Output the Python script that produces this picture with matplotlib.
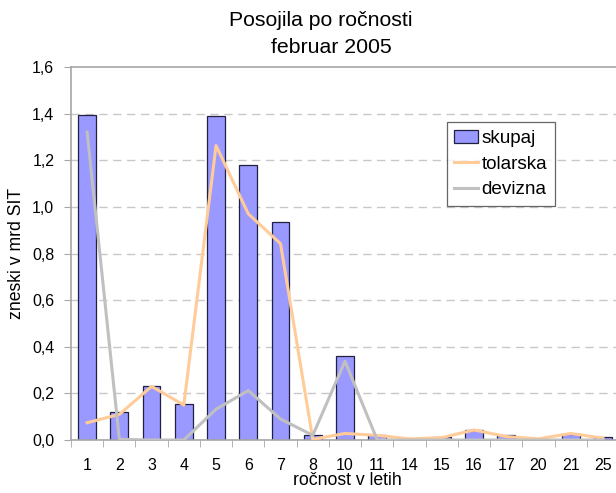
import matplotlib.pyplot as plt
import numpy as np

plt.rcParams['font.family'] = ['Liberation Sans', 'DejaVu Sans']

categories = ['1', '2', '3', '4', '5', '6', '7', '8', '10', '11',
              '14', '15', '16', '17', '20', '21', '25']
skupaj = [1.392, 0.122, 0.233, 0.153, 1.389, 1.180, 0.933, 0.020, 0.362,
          0.020, 0.005, 0.015, 0.044, 0.020, 0.005, 0.027, 0.012]
tolarska = [0.074, 0.110, 0.230, 0.150, 1.263, 0.970, 0.842, 0.003, 0.028,
            0.020, 0.005, 0.010, 0.043, 0.015, 0.005, 0.028, 0.008]
devizna = [1.321, 0.003, 0.000, 0.000, 0.132, 0.212, 0.090, 0.020, 0.338,
           0.000, 0.000, 0.000, 0.000, 0.000, 0.000, 0.000, 0.000]
y_ticks = [0.0, 0.2, 0.4, 0.6, 0.8, 1.0, 1.2, 1.4, 1.6]


def main():
    fig = plt.figure(figsize=(6.16, 4.93), dpi=100)
    ax = fig.add_axes([71 / 616, 53 / 493, 548 / 616, 373 / 493])
    x = np.arange(len(categories))
    grey = '#a6a6a6'

    for y in y_ticks[1:-1]:
        ax.axhline(y, color='#c8c8c8', lw=1, dashes=(6, 4), zorder=0)

    bars = ax.bar(x, skupaj, width=0.55, color='#9999ff',
                  edgecolor='#202040', linewidth=0.9, label='skupaj',
                  zorder=2)
    tol, = ax.plot(x, tolarska, color='#ffcc99', lw=2.2, label='tolarska',
                   zorder=3)
    dev, = ax.plot(x, devizna, color='#c0c0c0', lw=2.2, label='devizna',
                   zorder=3)

    ax.set_xlim(-0.5, len(categories) - 0.5)
    ax.set_ylim(0, 1.6)
    ax.set_yticks(y_ticks)
    ax.set_yticklabels([f"{v:.1f}".replace('.', ',') for v in y_ticks])
    ax.set_xticks(x)
    ax.set_xticklabels(categories)
    ax.set_xticks(np.arange(len(categories) + 1) - 0.5, minor=True)
    ax.tick_params(axis='x', which='major', length=0, pad=13,
                   labelsize=11.5)
    ax.tick_params(axis='x', which='minor', length=5, color=grey)
    ax.tick_params(axis='y', length=5, color=grey, pad=7, labelsize=11.5)

    for side in ['left', 'bottom', 'top']:
        ax.spines[side].set_color(grey)
        ax.spines[side].set_linewidth(1.2)
    ax.spines['right'].set_visible(False)

    ax.set_xlabel("ročnost v letih", fontsize=12.7, va='top')
    ax.xaxis.set_label_coords(0.504, -0.086)
    ax.set_ylabel("zneski v mrd SIT", fontsize=12.7)
    ax.yaxis.set_label_coords(-0.084, 0.5)

    fig.text(321 / 616, 1 - 26 / 493, "Posojila po ročnosti",
             ha='center', va='baseline', fontsize=15.3)
    fig.text(331 / 616, 1 - 52.7 / 493, "februar 2005",
             ha='center', va='baseline', fontsize=15.3)

    leg = ax.legend([bars, tol, dev], ['skupaj', 'tolarska', 'devizna'],
                    loc='upper left', bbox_to_anchor=(0.686, 0.852),
                    fontsize=13.6, frameon=True, fancybox=False,
                    borderaxespad=0, handlelength=1.26, handletextpad=0.17,
                    labelspacing=0.45, borderpad=0.4)
    leg.get_frame().set_edgecolor('#404040')
    leg.get_frame().set_linewidth(0.9)

    fig.savefig("out.png", dpi=100)


if __name__ == "__main__":
    main()
